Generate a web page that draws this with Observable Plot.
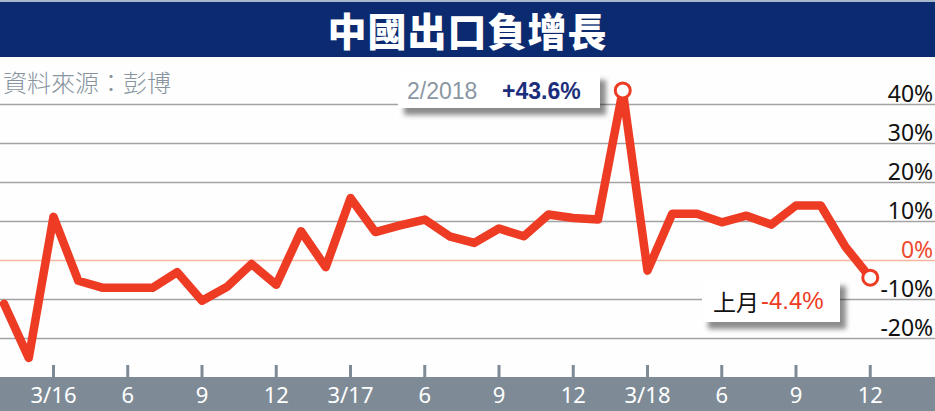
<!DOCTYPE html>
<html>
<head>
<meta charset="utf-8">
<script src="https://cdn.jsdelivr.net/npm/d3@7"></script>
<script src="https://cdn.jsdelivr.net/npm/@observablehq/plot@0.6"></script>
<style>
  html, body { margin: 0; padding: 0; background: #ffffff; }
  #wrap { position: relative; width: 935px; height: 411px; overflow: hidden; background: #fdfefd; font-family: "Liberation Sans", Arial, sans-serif; }
  #title { position: absolute; left: 0; top: 0; width: 935px; height: 55px; background: #0b2a6f; border-top: 2px solid #a9b7cc;
           color: #fff; font-family: "Noto Sans CJK TC", sans-serif; font-weight: 900; font-size: 39px; line-height: 55px; text-align: center; letter-spacing: 1px; }
  #band { position: absolute; left: 0; top: 377px; width: 935px; height: 34px; background: #7e8b96; }
  #chart { position: absolute; left: 0; top: 57px; }
  #source { position: absolute; left: 3px; top: 68px; font-family: "Noto Sans CJK TC", sans-serif; font-weight: 300; font-size: 24px; line-height: 28px; color: #8794a0; }
  .note { position: absolute; background: #ffffff; box-shadow: 6px 7px 5px rgba(0,0,0,0.45); white-space: nowrap; }
  #note1 { left: 398px; top: 73px; width: 202px; height: 35px; font-size: 23px; line-height: 37px; }
  #note1 .a { position: absolute; left: 9px; color: #8a97a3; }
  #note1 .b { position: absolute; left: 104px; color: #1c2e7b; font-weight: bold; }
  #note2 { left: 702px; top: 279px; width: 138px; height: 43px; font-size: 24px; line-height: 44px; }
  #note2 .a { position: absolute; left: 11px; color: #111; font-family: "Noto Sans CJK TC", sans-serif; font-size: 23px; }
  #note2 .b { position: absolute; left: 59px; color: #ee3b24; }
</style>
</head>
<body>
<div id="wrap">
  <div id="band"></div>
  <div id="chart"></div>
  <div id="title">中國出口負增長</div>
  <div id="source">資料來源：彭博</div>
  <div class="note" id="note1"><span class="a"></span><span class="b"></span></div>
  <div class="note" id="note2"><span class="a">上月</span><span class="b"></span></div>
</div>
<script>
// ---- data ----
const months = [
  "2016-01","2016-02","2016-03","2016-04","2016-05","2016-06","2016-07","2016-08","2016-09","2016-10","2016-11","2016-12",
  "2017-01","2017-02","2017-03","2017-04","2017-05","2017-06","2017-07","2017-08","2017-09","2017-10","2017-11","2017-12",
  "2018-01","2018-02","2018-03","2018-04","2018-05","2018-06","2018-07","2018-08","2018-09","2018-10","2018-11","2018-12"
];
const growth = [
  -11.1, -25.0, 11.2, -5.2, -7.0, -7.0, -7.0, -3.0, -10.3, -6.8, -0.9, -6.2,
  7.5, -1.7, 16.0, 7.3, 9.0, 10.5, 6.2, 4.5, 8.2, 6.2, 11.8, 10.9,
  10.5, 43.6, -2.6, 12.0, 12.0, 9.8, 11.5, 9.2, 14.1, 14.1, 3.5, -4.4
];
const tickMonths = ["2016-03","2016-06","2016-09","2016-12","2017-03","2017-06","2017-09","2017-12","2018-03","2018-06","2018-09","2018-12"];
const tickLabels = ["3/16","6","9","12","3/17","6","9","12","3/18","6","9","12"];
const yTicks = [40, 30, 20, 10, 0, -10, -20];
const highlightMonths = ["2018-02", "2018-12"];

const data = months.map((m, i) => ({month: m, value: growth[i]}));
const highlights = data.filter(d => highlightMonths.includes(d.month));

const W = 935, H = 354, mTop = 27.5, mBottom = 34, mLeft = 3.5, mRight = 65.25;
const red = "#ee3b24";

const chart = Plot.plot({
  width: W, height: H,
  marginTop: mTop, marginBottom: mBottom, marginLeft: mLeft, marginRight: mRight,
  style: {background: "transparent", overflow: "visible"},
  x: {type: "point", domain: months, padding: 0, round: false, axis: null},
  y: {domain: [-30, 45], axis: null},
  marks: [
    Plot.ruleY(yTicks.filter(d => d !== 0), {stroke: "#a3a3a3", strokeWidth: 1.5, insetLeft: -mLeft, insetRight: -mRight}),
    Plot.ruleY([0], {stroke: "#f6b6a2", strokeWidth: 1.5, insetLeft: -mLeft, insetRight: -mRight}),
    Plot.ruleX(tickMonths, {x: d => d, stroke: "#7e8b96", strokeWidth: 3, insetTop: (H - mTop - mBottom) - 12}),
    Plot.line(data, {x: "month", y: "value", stroke: red, strokeWidth: 8.5, strokeLinejoin: "round", strokeLinecap: "round"}),
    Plot.dot(highlights, {x: "month", y: "value", r: 7.5, fill: "#fff", stroke: red, strokeWidth: 3}),
    Plot.text(yTicks, {y: d => d, text: d => d + "%", frameAnchor: "right", textAnchor: "end", lineAnchor: "bottom",
      dx: 63, dy: -3, fontSize: 23, fill: d => d === 0 ? "#ef4a2f" : "#111"}),
    Plot.text(tickMonths, {x: d => d, text: (d, i) => tickLabels[i], frameAnchor: "bottom", lineAnchor: "bottom",
      dy: 25.5, fontSize: 22, fill: "#fff"})
  ]
});
document.getElementById("chart").appendChild(chart);

// annotations from the data
const peak = data.find(d => d.month === "2018-02");
const last = data[data.length - 1];
const [py, pm] = peak.month.split("-");
document.querySelector("#note1 .a").textContent = `${+pm}/${py}`;
document.querySelector("#note1 .b").textContent = `+${peak.value.toFixed(1)}%`;
document.querySelector("#note2 .b").textContent = `${last.value.toFixed(1)}%`;
</script>
</body>
</html>
